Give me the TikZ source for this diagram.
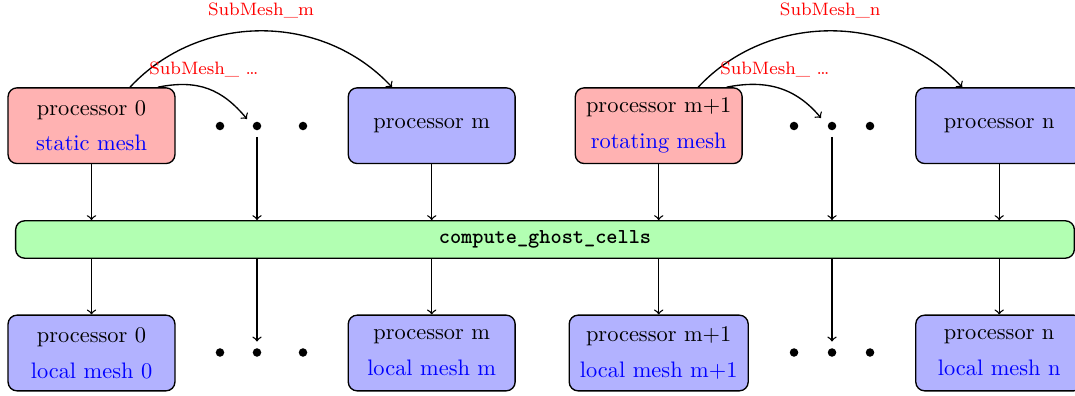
\documentclass[tikz,border=0pt]{standalone}
\usetikzlibrary{calc}
\begin{document}
\begin{tikzpicture}[
    x=0.4464pt, y=-0.4464pt, semithick,
    proc/.style={draw, rounded corners=4pt, minimum width=74.5pt,
                 minimum height=33.8pt, align=center, inner xsep=4.8pt},
    staticbox/.style={proc, fill=red!30},
    localbox/.style={proc, fill=blue!30},
    barbox/.style={draw, rounded corners=4pt, fill=green!30,
                   minimum width=472.6pt, minimum height=16.7pt,
                   font=\fontsize{9.5}{11}\selectfont\ttfamily\bfseries},
    dotnode/.style={circle, fill, inner sep=0pt, minimum size=3.8pt},
    lbl/.style={font=\footnotesize, text=red},
    flow/.style={->}
  ]
  \useasboundingbox (0,0) rectangle (1075,396);

  % processors holding the initial meshes
  \node[staticbox] (p0)  at (91.5,125.7)  {processor 0\\[4pt]\textcolor{blue}{static mesh}};
  \node[localbox]  (pm)  at (431.7,125.7) {processor m};
  \node[staticbox] (pm1) at (658.7,125.7) {processor m+1\\[4pt]\textcolor{blue}{rotating mesh}};
  \node[localbox]  (pn)  at (999.2,125.7) {processor n};

  % ellipsis between the processors
  \node[dotnode] (a1) at (220,126) {};
  \node[dotnode] (d1) at (257,126) {};
  \node[dotnode] (a3) at (303,126) {};
  \node[dotnode] (b1) at (794,126) {};
  \node[dotnode] (d2) at (832,126) {};
  \node[dotnode] (b3) at (870,126) {};

  % ghost cell computation
  \node[barbox] (bar) at (545,239.5) {compute\_ghost\_cells};

  % processors holding the local meshes
  \node[localbox] (q0)  at (91.5,353)  {processor 0\\[4pt]\textcolor{blue}{local mesh 0}};
  \node[localbox] (qm)  at (431.7,353) {processor m\\[4pt]\textcolor{blue}{local mesh m}};
  \node[localbox] (qm1) at (658.7,353) {processor m+1\\[4pt]\textcolor{blue}{local mesh m+1}};
  \node[localbox] (qn)  at (999.2,353) {processor n\\[4pt]\textcolor{blue}{local mesh n}};

  \node[dotnode] (c1) at (220,352.5) {};
  \node[dotnode] (e1) at (257,352.5) {};
  \node[dotnode] (c3) at (303,352.5) {};
  \node[dotnode] (f1) at (794,352.5) {};
  \node[dotnode] (e2) at (832,352.5) {};
  \node[dotnode] (f3) at (870,352.5) {};

  % sub-mesh distribution
  \draw[flow] ($(p0.north)+(38.5,0)$) .. controls +(70,-75) and +(-70,-75) ..
        ($(pm.north)+(-39.7,0)$) node[lbl, midway, above=2pt] {SubMesh\_m};
  \draw[flow] ($(p0.north)+(66.5,0)$) .. controls +(40,-8) and +(-25,-30) ..
        ($(d1)+(-10,-7)$) node[lbl, pos=0.45, above=1pt] {SubMesh\_ \dots};
  \draw[flow] ($(pm1.north)+(39.5,0)$) .. controls +(70,-75) and +(-70,-75) ..
        ($(pn.north)+(-37,0)$) node[lbl, midway, above=2pt] {SubMesh\_n};
  \draw[flow] ($(pm1.north)+(68,0)$) .. controls +(40,-8) and +(-25,-30) ..
        ($(d2)+(-11,-8)$) node[lbl, pos=0.45, above=1pt] {SubMesh\_ \dots};

  % into the ghost cell computation
  \foreach \n in {p0,pm,pm1,pn}
    \draw[flow] (\n) -- (\n |- bar.north);
  \foreach \n in {d1,d2}
    \draw[flow, shorten <=2.7pt] (\n) -- (\n |- bar.north);

  % out of the ghost cell computation
  \foreach \n in {q0,qm,qm1,qn}
    \draw[flow] (\n |- bar.south) -- (\n);
  \foreach \n in {e1,e2}
    \draw[flow, shorten >=2.7pt] (\n |- bar.south) -- (\n);
\end{tikzpicture}
\end{document}
